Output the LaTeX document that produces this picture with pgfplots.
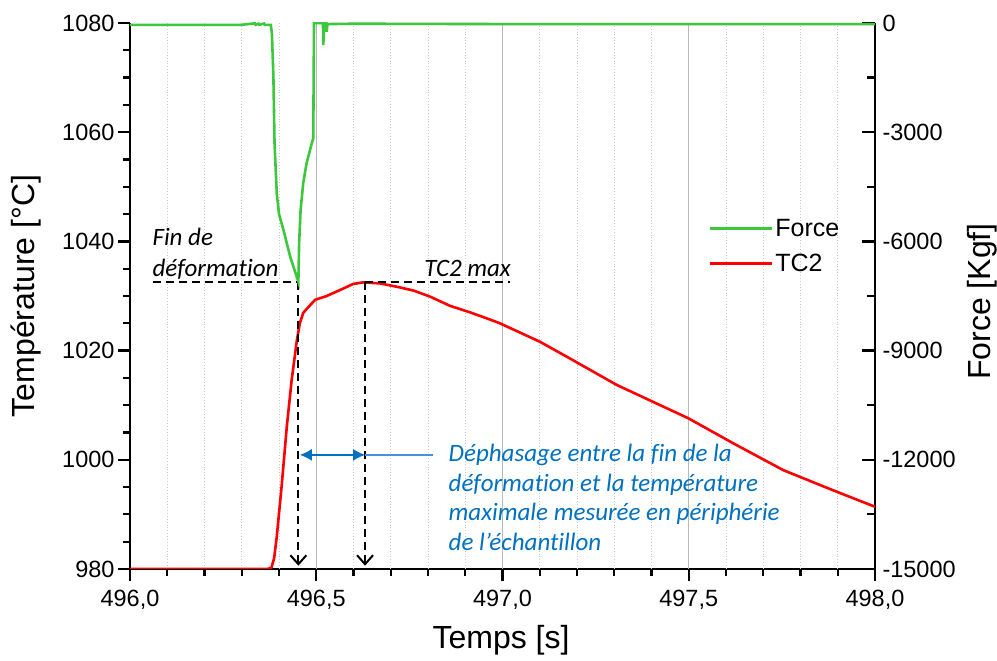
\documentclass[border=0pt]{standalone}
\usepackage{pgfplots}
\pgfplotsset{compat=1.18}
\usepackage{fontspec}
\setmainfont{Liberation Sans}
\newfontfamily\calfont[Ligatures=NoCommon]{Carlito}
\usetikzlibrary{arrows.meta}
\definecolor{fgreen}{RGB}{60,200,60}
\definecolor{tred}{RGB}{255,0,0}
\definecolor{oblue}{RGB}{0,112,192}
\definecolor{lblue}{RGB}{70,145,215}

\pgfplotstableread{
t T
496.000 980.0
496.370 980.0
496.380 980.3
496.387 982.0
496.394 985.9
496.407 995.1
496.421 1006.1
496.434 1014.6
496.448 1021.9
496.456 1025.0
496.465 1026.9
496.474 1027.6
496.497 1029.3
496.528 1030.0
496.564 1031.1
496.599 1032.2
496.626 1032.5
496.671 1032.3
496.716 1031.7
496.761 1031.0
496.805 1029.9
496.859 1028.2
496.913 1027.0
496.966 1025.7
496.993 1025.0
497.101 1021.6
497.172 1018.9
497.307 1013.7
497.499 1007.6
497.620 1003.0
497.754 998.1
497.888 994.4
498.000 991.4
}\tctable

\pgfplotstableread{
t F
496.000 -50
496.300 -50
496.335 -10
496.337 -50
496.345 -20
496.347 -50
496.360 -15
496.362 -50
496.378 -50
496.381 -300
496.385 -1475
496.388 -3305
496.394 -4678
496.400 -5250
496.412 -5687
496.430 -6420
496.452 -7107
496.454 -6052
496.458 -5137
496.465 -4404
496.474 -3854
496.488 -3305
496.492 -3168
496.494 0
496.518 0
496.519 -604
496.521 0
496.527 0
496.528 -240
496.530 -30
496.600 -20
497.000 -30
497.500 -30
498.000 -30
}\ftable

\begin{document}
\begin{tikzpicture}
\path[use as bounding box] (-130pt,-92pt) rectangle (867pt,569pt);
% axis frame and tick marks (axis box spans (0,0)--(745pt,546pt)), drawn first
\draw[black, line width=2.5pt, line join=miter] (0pt,546pt) -- (0pt,0pt) -- (745pt,0pt) -- (745pt,546pt);
\foreach \i in {0,1,2,3,4} {\draw[black, line width=2.4pt] (\i*186.25pt,0pt) -- ++(0pt,-12pt);}
\foreach \i in {1,2,3,4,6,7,8,9,11,12,13,14,16,17,18,19} {\draw[black, line width=2.2pt] (\i*37.25pt,0pt) -- ++(0pt,-7pt);}
\foreach \i in {0,1,2,3,4,5} {\draw[black, line width=2.4pt] (0pt,\i*109.2pt) -- ++(-12pt,0pt);}
\foreach \i in {1,2,3,5,6,7,9,10,11,13,14,15,17,18,19} {\draw[black, line width=2.2pt] (0pt,\i*27.3pt) -- ++(-7pt,0pt);}
\foreach \i in {0,1,2,3,4,5} {\draw[black, line width=2.4pt] (745pt,\i*109.2pt) -- ++(-13pt,0pt);}
\foreach \i in {1,3,5,7,9} {\draw[black, line width=2.2pt] (745pt,\i*54.6pt) -- ++(-8pt,0pt);}

\begin{axis}[
  at={(0pt,0pt)}, anchor=south west,
  scale only axis, width=745pt, height=546pt,
  xmin=496, xmax=498, ymin=980, ymax=1080,
  axis x line*=bottom, axis y line*=left,
  axis line style={draw=none},
  tick style={draw=none},
  tick align=outside,
  major tick length=12pt, minor tick length=7pt,
  xtick={496,496.5,497,497.5,498},
  xticklabels={{496,0},{496,5},{497,0},{497,5},{498,0}},
  minor x tick num=4,
  ytick={980,1000,1020,1040,1060,1080},
  yticklabels={980,1000,1020,1040,1060,1080},
  minor y tick num=3,
  xminorgrids,
  minor grid style={draw={rgb,255:red,200;green,200;blue,200}, line width=0.9pt, dotted},
  extra x ticks={496.5,497,497.5},
  extra x tick labels={},
  extra x tick style={grid=major, major grid style={draw={rgb,255:red,185;green,185;blue,185}, line width=1.2pt, solid}},
  ticklabel style={font=\fontsize{23.5}{28}\selectfont},
  xticklabel style={yshift=-6pt},
  xlabel={Temps [s]},
  ylabel={Température [°C]},
  label style={font=\fontsize{32}{38}\selectfont},
  xlabel style={at={(axis description cs:0.498,-0.130)}, anchor=center},
  ylabel style={at={(axis description cs:-0.140,0.5)}, anchor=center},
]
\addplot[tred, line width=2.6pt] table[x=t, y=T] {\tctable};

\draw[black, line width=2pt, dash pattern=on 8pt off 5pt] (axis cs:496.062,1032.6) -- (axis cs:496.452,1032.6);
\draw[black, line width=2pt, dash pattern=on 8pt off 5pt] (axis cs:496.631,1032.6) -- (axis cs:497.02,1032.6);
\draw[black, line width=2pt, dash pattern=on 8pt off 5pt, -{Straight Barb[length=9pt,width=16pt]}] (axis cs:496.452,1032.6) -- (axis cs:496.452,980.6);
\draw[black, line width=2pt, dash pattern=on 8pt off 5pt, -{Straight Barb[length=9pt,width=16pt]}] (axis cs:496.631,1032.6) -- (axis cs:496.631,980.6);

\draw[lblue, line width=1.4pt] (axis cs:496.631,1000.9) -- (axis cs:496.813,1000.9);
\draw[oblue, line width=1.4pt, {Latex[length=12pt,width=12pt]}-{Latex[length=12pt,width=12pt]}] (axis cs:496.456,1000.9) -- (axis cs:496.631,1000.9);

\node[anchor=base west, inner sep=0pt, font=\calfont\itshape\fontsize{25}{30}\selectfont] at (axis cs:496.060,1039.2) {Fin de};
\node[anchor=base west, inner sep=0pt, font=\calfont\itshape\fontsize{25}{30}\selectfont] at (axis cs:496.060,1033.6) {déformation};
\node[anchor=base east, inner sep=0pt, font=\calfont\itshape\fontsize{25}{30}\selectfont] at (axis cs:497.023,1033.6) {TC2 max};

\node[anchor=base west, inner sep=0pt, text=oblue, font=\calfont\itshape\fontsize{25}{30}\selectfont] at (axis cs:496.855,999.6) {Déphasage entre la fin de la};
\node[anchor=base west, inner sep=0pt, text=oblue, font=\calfont\itshape\fontsize{25}{30}\selectfont] at (axis cs:496.855,994.2) {déformation et la température};
\node[anchor=base west, inner sep=0pt, text=oblue, font=\calfont\itshape\fontsize{25}{30}\selectfont] at (axis cs:496.855,988.8) {maximale mesurée en périphérie};
\node[anchor=base west, inner sep=0pt, text=oblue, font=\calfont\itshape\fontsize{25}{30}\selectfont] at (axis cs:496.855,983.3) {de l’échantillon};
\end{axis}

\begin{axis}[
  at={(0pt,0pt)}, anchor=south west,
  scale only axis, width=745pt, height=546pt,
  xmin=496, xmax=498, ymin=-15000, ymax=0,
  axis x line=none, axis y line*=right,
  axis line style={draw=none},
  tick style={draw=none},
  tick align=inside,
  major tick length=13pt, minor tick length=8pt,
  scaled y ticks=false,
  ytick={-15000,-12000,-9000,-6000,-3000,0},
  yticklabels={-15000,-12000,-9000,-6000,-3000,0},
  minor y tick num=1,
  ticklabel style={font=\fontsize{23.5}{28}\selectfont},
  yticklabel style={xshift=4pt},
  ylabel={Force [Kgf]},
  label style={font=\fontsize{32}{38}\selectfont},
  ylabel style={at={(axis description cs:1.144,0.49)}, anchor=center},
  legend style={at={(axis description cs:0.772,0.648)}, anchor=north west, draw=none, fill=none, font=\fontsize{25}{30}\selectfont, row sep=12pt},
  legend cell align=left,
  legend image code/.code={\draw[#1] (0pt,0pt) -- (62pt,0pt);},
]
\addplot[fgreen, line width=2.6pt] table[x=t, y=F] {\ftable};
\addlegendentry{Force}
\addlegendimage{tred, line width=3pt}
\addlegendentry{TC2}
\end{axis}
\end{tikzpicture}
\end{document}
